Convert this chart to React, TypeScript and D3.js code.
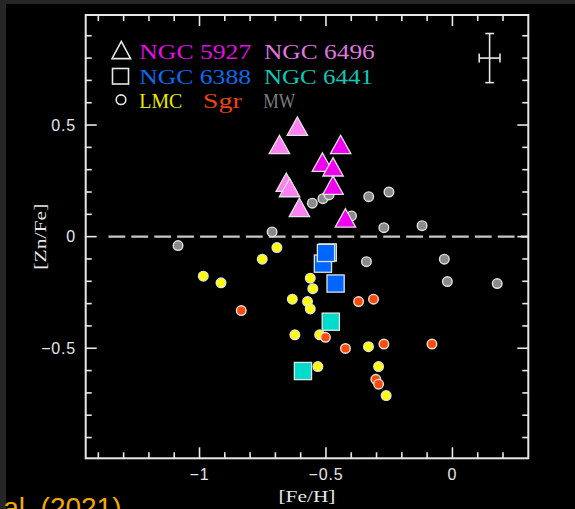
import React from "react";
import * as d3 from "d3";

const W = 575;
const H = 509;

// Axis domains and tick values
const xDomain = [-1.45, 0.3];
const yDomain = [-0.993, 0.993];
const xTickValues = d3.range(-14, 3).map((i) => i / 10);
const yTickValues = d3.range(-9, 10).map((i) => i / 10);
const xTickLabels = [
  { v: -1, t: "\u22121" },
  { v: -0.5, t: "\u22120.5" },
  { v: 0, t: "0" },
];
const yTickLabels = [
  { v: 0.5, t: "0.5" },
  { v: 0, t: "0" },
  { v: -0.5, t: "\u22120.5" },
];

// [Fe/H], [Zn/Fe] per sample
const mwStars: [number, number][] = [
  [-1.085, -0.04], [-0.713, 0.021], [-0.554, 0.15], [-0.512, 0.17],
  [-0.488, 0.187], [-0.399, 0.093], [-0.331, 0.179], [-0.251, 0.2],
  [-0.271, 0.04], [-0.12, 0.049], [-0.34, -0.112], [-0.032, -0.101],
  [-0.02, -0.201], [0.177, -0.21],
];
const lmcStars: [number, number][] = [
  [-0.985, -0.177], [-0.915, -0.207], [-0.752, -0.101], [-0.694, -0.049],
  [-0.562, -0.186], [-0.552, -0.233], [-0.633, -0.28], [-0.573, -0.291],
  [-0.562, -0.324], [-0.623, -0.44], [-0.525, -0.44], [-0.332, -0.493],
  [-0.532, -0.582], [-0.292, -0.582], [-0.262, -0.712],
];
const sgrStars: [number, number][] = [
  [-0.835, -0.331], [-0.371, -0.291], [-0.312, -0.28], [-0.502, -0.451],
  [-0.423, -0.501], [-0.271, -0.481], [-0.081, -0.481], [-0.303, -0.639],
  [-0.292, -0.661],
];
const ngc6388: [number, number][] = [
  [-0.512, -0.121], [-0.462, -0.21], [-0.493, -0.071], [-0.5, -0.073],
];
const ngc6441: [number, number][] = [
  [-0.481, -0.381], [-0.591, -0.602],
];
const ngc6496: [number, number][] = [
  [-0.613, 0.495], [-0.684, 0.413], [-0.657, 0.244], [-0.644, 0.22],
  [-0.605, 0.131],
];
const ngc5927: [number, number][] = [
  [-0.442, 0.413], [-0.514, 0.334], [-0.472, 0.313], [-0.472, 0.231],
  [-0.423, 0.084],
];

// Typical uncertainty: centre, half-width in [Fe/H], half-height in [Zn/Fe]
const errCenter: [number, number] = [0.147, 0.8];
const errFeH = 0.041;
const errZnFe = 0.11;
const zeroLineStart = -1.36;

const COLORS = {
  mw: "#8a8a8a",
  lmc: "#ffff00",
  sgr: "#ff4a0a",
  n6388: "#0066ff",
  n6441: "#00dccb",
  n6496: "#ff80f0",
  n5927: "#f000f0",
};

const TEXT_COLORS = {
  n5927: "#e010e0",
  n6496: "#dd77dd",
  n6388: "#0a6cf0",
  n6441: "#10c8b8",
  lmc: "#e8e800",
  sgr: "#ee4010",
  mw: "#7c7c7c",
};

const AXIS = "#e8e8e8";
const EDGE = "#e2e2e2";
const SERIF = "'Liberation Serif', 'Times New Roman', serif";
const SANS = "'Liberation Sans', Arial, sans-serif";

export default function App() {
  const left = 85.7, right = 528.3, top = 15, bottom = 458.3;
  const x = d3.scaleLinear().domain(xDomain).range([left, right]);
  const y = d3.scaleLinear().domain(yDomain).range([bottom, top]);

  const isMajor = (v: number) => Math.abs(v * 2 - Math.round(v * 2)) < 1e-6;
  const majorLen = 11;
  const minorLen = 6;

  const circles = (data: [number, number][], fill: string, key: string) =>
    data.map((d, i) => (
      <circle key={key + i} cx={x(d[0])} cy={y(d[1])} r={4.8} fill={fill}
        stroke={EDGE} strokeWidth={1.4} />
    ));
  const squares = (data: [number, number][], fill: string, key: string) =>
    data.map((d, i) => (
      <rect key={key + i} x={x(d[0]) - 8.6} y={y(d[1]) - 8.6} width={17.2}
        height={17.2} fill={fill} stroke={EDGE} strokeWidth={1.3} />
    ));
  const triPath = (cx: number, cy: number, hw: number, hh: number) =>
    `M${cx},${cy - hh}L${cx + hw},${cy + hh}L${cx - hw},${cy + hh}Z`;
  const triangles = (data: [number, number][], fill: string, key: string) =>
    data.map((d, i) => (
      <path key={key + i} d={triPath(x(d[0]), y(d[1]), 10.2, 9.2)} fill={fill}
        stroke={EDGE} strokeWidth={1.3} strokeLinejoin="miter" />
    ));

  const ex = x(errCenter[0]);
  const ey = y(errCenter[1]);
  const ex0 = x(errCenter[0] - errFeH), ex1 = x(errCenter[0] + errFeH);
  const ey0 = y(errCenter[1] + errZnFe), ey1 = y(errCenter[1] - errZnFe);

  const legendText = (
    label: string, color: string, tx: number, ty: number, len: number
  ) => (
    <text x={tx} y={ty} fill={color} fontFamily={SERIF} fontSize={20}
      textLength={len} lengthAdjust="spacingAndGlyphs">{label}</text>
  );

  return (
    <svg width={W} height={H} viewBox={`0 0 ${W} ${H}`}
      style={{ position: "absolute", left: 0, top: 0, display: "block" }}>
      <rect x={0} y={0} width={W} height={H} fill="#262626" />
      <rect x={6} y={4} width={W - 6} height={H - 4} fill="#000" />

      {/* zero reference line */}
      <line x1={x(zeroLineStart)} x2={right} y1={y(0)} y2={y(0)}
        stroke="#c8c8c8" strokeWidth={2.3} strokeDasharray="16.8 6.1" />

      {/* samples */}
      <g>{circles(mwStars, COLORS.mw, "mw")}</g>
      <g>{circles(lmcStars, COLORS.lmc, "lmc")}</g>
      <g>{circles(sgrStars, COLORS.sgr, "sgr")}</g>
      <g>{squares(ngc6388, COLORS.n6388, "n6388")}</g>
      <g>{squares(ngc6441, COLORS.n6441, "n6441")}</g>
      <g>{triangles(ngc6496, COLORS.n6496, "n6496")}</g>
      <g>{triangles(ngc5927, COLORS.n5927, "n5927")}</g>

      {/* frame */}
      <rect x={left} y={top} width={right - left} height={bottom - top}
        fill="none" stroke={AXIS} strokeWidth={2} />
      {xTickValues.map((v) => {
        const len = isMajor(v) ? majorLen : minorLen;
        return (
          <g key={"xt" + v}>
            <line x1={x(v)} x2={x(v)} y1={bottom} y2={bottom - len} stroke={AXIS} strokeWidth={1.6} />
            <line x1={x(v)} x2={x(v)} y1={top} y2={top + len} stroke={AXIS} strokeWidth={1.6} />
          </g>
        );
      })}
      {yTickValues.map((v) => {
        const len = isMajor(v) ? majorLen : minorLen;
        return (
          <g key={"yt" + v}>
            <line x1={left} x2={left + len} y1={y(v)} y2={y(v)} stroke={AXIS} strokeWidth={1.6} />
            <line x1={right} x2={right - len} y1={y(v)} y2={y(v)} stroke={AXIS} strokeWidth={1.6} />
          </g>
        );
      })}

      {/* tick labels */}
      {xTickLabels.map((d) => (
        <text key={"xl" + d.v} x={x(d.v)} y={480} textAnchor="middle" fill="#e6e6e6"
          fontFamily={SANS} fontSize={16} letterSpacing={0.8}>{d.t}</text>
      ))}
      {yTickLabels.map((d) => (
        <text key={"yl" + d.v} x={76} y={y(d.v) + 5.6} textAnchor="end" fill="#e6e6e6"
          fontFamily={SANS} fontSize={16} letterSpacing={0.8}>{d.t}</text>
      ))}

      {/* axis titles */}
      <text x={307} y={501.5} textAnchor="middle" fill="#e6e6e6" fontFamily={SERIF}
        fontSize={17} textLength={57} lengthAdjust="spacingAndGlyphs">[Fe/H]</text>
      <text transform={`translate(45.5, ${y(0)}) rotate(-90)`} textAnchor="middle"
        fill="#e6e6e6" fontFamily={SERIF} fontSize={17} textLength={66}
        lengthAdjust="spacingAndGlyphs">[Zn/Fe]</text>

      {/* error bar */}
      <g stroke="#e6e6e6" strokeWidth={1.6}>
        <line x1={ex} x2={ex} y1={ey0} y2={ey1} />
        <line x1={ex - 4.3} x2={ex + 4.3} y1={ey0} y2={ey0} />
        <line x1={ex - 4.3} x2={ex + 4.3} y1={ey1} y2={ey1} />
        <line x1={ex0} x2={ex1} y1={ey} y2={ey} />
        <line x1={ex0} x2={ex0} y1={ey - 4.5} y2={ey + 4.5} />
        <line x1={ex1} x2={ex1} y1={ey - 4.5} y2={ey + 4.5} />
      </g>

      {/* legend */}
      <g fill="none" stroke="#e8e8e8" strokeWidth={1.6}>
        <path d={triPath(121.3, 50, 9.3, 8.6)} />
        <rect x={112.5} y={68.5} width={16} height={15.5} />
        <circle cx={121} cy={99.7} r={4.8} />
      </g>
      {legendText("NGC 5927", TEXT_COLORS.n5927, 139.3, 59, 112)}
      {legendText("NGC 6496", TEXT_COLORS.n6496, 264, 59, 110.8)}
      {legendText("NGC 6388", TEXT_COLORS.n6388, 139.3, 83.5, 111.7)}
      {legendText("NGC 6441", TEXT_COLORS.n6441, 264, 83.5, 109)}
      {legendText("LMC", TEXT_COLORS.lmc, 139.3, 107.5, 43)}
      {legendText("Sgr", TEXT_COLORS.sgr, 202.8, 107.5, 39.2)}
      {legendText("MW", TEXT_COLORS.mw, 263.3, 107.5, 32)}

      {/* citation */}
      <text x={121.5} y={516.5} textAnchor="end" fill="#f2a900" fontFamily={SANS}
        fontSize={28}>al. (2021)</text>
    </svg>
  );
}
